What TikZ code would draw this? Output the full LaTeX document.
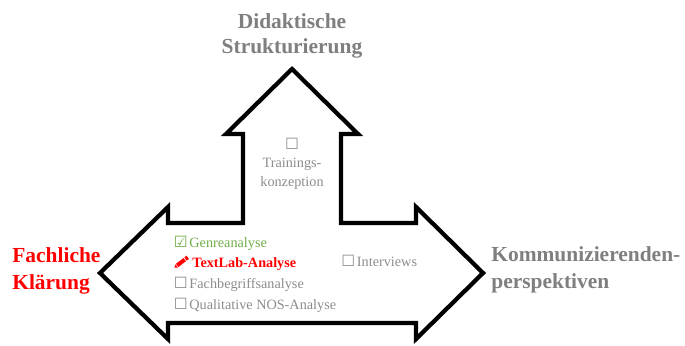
\documentclass[tikz,border=0pt]{standalone}
\usepackage{fontspec}
\setmainfont{Liberation Serif}
\newfontfamily\symbfont{DejaVu Sans}
\definecolor{headgray}{HTML}{7F7F7F}
\definecolor{itemgray}{HTML}{8C8C8C}
\definecolor{itemgreen}{HTML}{70AD47}
\newcommand{\boxfree}{{\symbfont\fontsize{8.8pt}{8.8pt}\selectfont ☐}}
\newcommand{\boxdone}{{\symbfont\fontsize{8.8pt}{8.8pt}\selectfont ☑}}
\tikzset{
    heading/.style={font=\fontsize{12.2pt}{15pt}\selectfont\bfseries, align=left, inner sep=0pt},
    entry/.style={font=\fontsize{8.1pt}{9pt}\selectfont, text=itemgray, anchor=west, inner sep=0pt},
    outline/.style={line width=0.085cm, miter limit=10}
}
\begin{document}
\begin{tikzpicture}[x=0.02cm, y=-0.02cm]
        \useasboundingbox (0,0) rectangle (685,345);

        % Arrow outline
        \draw[outline] (292,69) -- (358,134) -- (341,134) -- (341,223) -- (416,223)
            -- (416,207) -- (483,273) -- (416,339) -- (416,323) -- (168,323)
            -- (168,339) -- (100,273) -- (168,207) -- (168,223) -- (243,223)
            -- (243,134) -- (226,134) -- cycle;

        % Headings
        \node[heading, text=headgray, align=center, font=\fontsize{12.2pt}{14.2pt}\selectfont\bfseries] (didaktik) at (292,36) {Didaktische\\Strukturierung};
        \node[heading, text=red, anchor=west] (klaerung) at (12,271) {Fachliche\\Klärung};
        \node[heading, text=headgray, anchor=west] (perspektiven) at (491,270) {Kommunizierenden-\\perspektiven};

        % Upper arrow
        \node[entry, anchor=center, align=center] (training) at (292,164) {\boxfree\\[1pt]Trainings-\\[2pt]konzeption};

        % Left list
        \node[entry, text=itemgreen] (genre) at (173.5,243) {\boxdone\hspace{1pt}Genreanalyse};
        \node[entry, text=red, font=\fontsize{8.1pt}{9pt}\selectfont\bfseries] (textlab) at (192,264) {TextLab-Analyse};
        \node[entry] (fachbegriff) at (173.5,284) {\boxfree\hspace{1pt}Fachbegriffsanalyse};
        \node[entry] (nos) at (173.5,305) {\boxfree\hspace{1pt}Qualitative NOS-Analyse};

        % Pencil
        \fill[red] (174.3,267.7) -- (175.5,264.3) -- (177.9,267.5) -- cycle;
        \fill[red] (176,263.8) -- (183.5,258) -- (185.9,261.2) -- (178.4,267) -- cycle;
        \fill[red] (184.3,257.4) -- (186.5,255.7) -- (188.9,258.9) -- (186.7,260.6) -- cycle;

        % Right entry
        \node[entry] (interviews) at (341,261) {\boxfree\hspace{1pt}Interviews};

    \end{tikzpicture}
\end{document}
